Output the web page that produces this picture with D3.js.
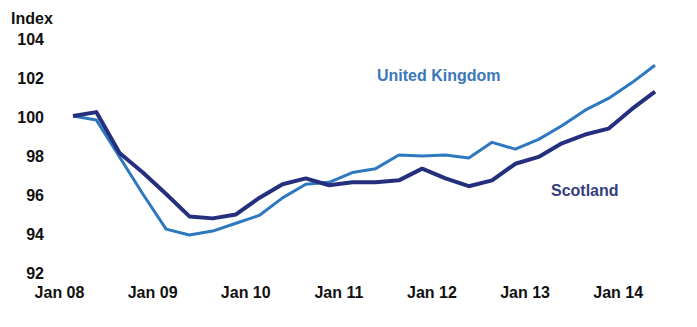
<!DOCTYPE html>
<html>
<head>
<meta charset="utf-8">
<script src="https://cdn.jsdelivr.net/npm/d3@7"></script>
<style>
  html, body { margin: 0; padding: 0; background: #fff; }
  svg { display: block; }
  text { font-family: "Liberation Sans", Arial, sans-serif; font-weight: bold; }
</style>
</head>
<body>
<svg id="chart" width="697" height="327"></svg>
<script>
// Quarterly index, Q1 2008 = 100
const quarters = d3.range(26); // Q1 2008 .. Q2 2014
const ukValues = [100, 99.8, 97.9, 96.0, 94.2, 93.9, 94.1, 94.5, 94.9, 95.8, 96.5, 96.6, 97.1, 97.3, 98.0, 97.95, 98.0, 97.85, 98.65, 98.3, 98.8, 99.5, 100.3, 100.9, 101.7, 102.6];
const scotlandValues = [100, 100.2, 98.1, 97.1, 96.0, 94.85, 94.75, 94.95, 95.8, 96.5, 96.8, 96.45, 96.6, 96.6, 96.7, 97.3, 96.8, 96.4, 96.7, 97.55, 97.9, 98.6, 99.05, 99.35, 100.35, 101.25];
const yTicks = [92, 94, 96, 98, 100, 102, 104];
const xTickIdx = [0, 4, 8, 12, 16, 20, 24];
const xTickLabels = ["Jan 08", "Jan 09", "Jan 10", "Jan 11", "Jan 12", "Jan 13", "Jan 14"];

const svg = d3.select("#chart");
const x = d3.scaleLinear().domain([0, 25]).range([73, 655]);
const y = d3.scaleLinear().domain([92, 104]).range([272, 38]);

// Y axis
const yAxis = d3.axisLeft(y).tickValues(yTicks).tickSize(0).tickPadding(0);
const gy = svg.append("g").attr("transform", "translate(44,1)").call(yAxis);
gy.select(".domain").remove();
gy.selectAll("text").attr("font-size", 16).attr("fill", "#111")
  .style("font-family", '"Liberation Sans", Arial, sans-serif').style("font-weight", "bold");

svg.append("text").attr("x", 11).attr("y", 24).attr("font-size", 16).attr("fill", "#111").text("Index");

// X axis
const xAxis = d3.axisBottom(x).tickValues(xTickIdx).tickSize(0).tickPadding(0)
  .tickFormat((d, i) => xTickLabels[i]);
const gx = svg.append("g").attr("transform", "translate(-14,287)").call(xAxis);
gx.select(".domain").remove();
gx.selectAll("text").attr("font-size", 16).attr("fill", "#111")
  .style("font-family", '"Liberation Sans", Arial, sans-serif').style("font-weight", "bold");

const line = d3.line().x((d, i) => x(quarters[i])).y(d => y(d));

svg.append("path").datum(ukValues).attr("d", line)
  .attr("fill", "none").attr("stroke", "#2e78c0").attr("stroke-width", 3)
  .attr("stroke-linejoin", "round");
svg.append("path").datum(scotlandValues).attr("d", line)
  .attr("fill", "none").attr("stroke", "#24307e").attr("stroke-width", 4)
  .attr("stroke-linejoin", "round");

svg.append("text").attr("x", 377).attr("y", 81).attr("font-size", 16).attr("fill", "#3a78b8").text("United Kingdom");
svg.append("text").attr("x", 551).attr("y", 196).attr("font-size", 16).attr("fill", "#343e80").text("Scotland");
</script>
</body>
</html>
